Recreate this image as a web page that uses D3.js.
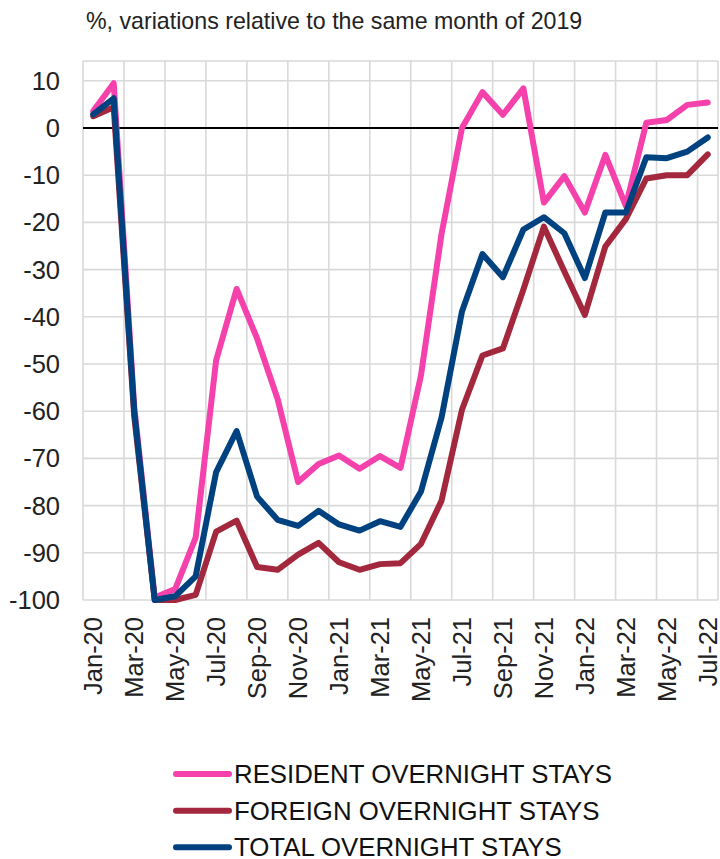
<!DOCTYPE html>
<html>
<head>
<meta charset="utf-8">
<script src="https://cdn.jsdelivr.net/npm/d3@7"></script>
<style>
  body { margin: 0; background: #fff; }
  svg { display: block; font-family: "Liberation Sans", Arial, Helvetica, sans-serif; }
</style>
</head>
<body>
<svg id="chart" width="720" height="859"></svg>
<script>
const months = ["Jan-20","Feb-20","Mar-20","Apr-20","May-20","Jun-20","Jul-20","Aug-20","Sep-20","Oct-20","Nov-20","Dec-20",
  "Jan-21","Feb-21","Mar-21","Apr-21","May-21","Jun-21","Jul-21","Aug-21","Sep-21","Oct-21","Nov-21","Dec-21",
  "Jan-22","Feb-22","Mar-22","Apr-22","May-22","Jun-22","Jul-22"];
const resident = [3.6, 9.5, -59, -99.5, -97.7, -86.8, -49.2, -34.1, -44.6, -57.4, -75, -71.2,
  -69.4, -72.2, -69.5, -72, -52.4, -22.5, 0, 7.6, 2.8, 8.4, -15.8, -10.2,
  -17.9, -5.7, -16.5, 1.1, 1.7, 4.9, 5.4];
const foreign = [2.5, 4.4, -61, -100, -100, -98.9, -85.5, -83.2, -93, -93.6, -90.4, -87.9,
  -92, -93.6, -92.4, -92.2, -88.1, -79, -59.7, -48.2, -46.7, -34.2, -20.9, -30.4,
  -39.6, -25.1, -19.3, -10.7, -10, -10, -5.6];
const total = [2.9, 6.3, -60, -100, -99.2, -95, -72.9, -64.2, -78.1, -83, -84.3, -81.1,
  -84, -85.3, -83.3, -84.5, -77, -61.4, -38.9, -26.7, -31.6, -21.5, -18.9, -22.3,
  -31.8, -17.9, -17.9, -6.2, -6.4, -5, -2];
const yTicks = [10, 0, -10, -20, -30, -40, -50, -60, -70, -80, -90, -100];
const xTickLabels = months.filter((d, i) => i % 2 === 0);
const seriesNames = ["RESIDENT OVERNIGHT STAYS", "FOREIGN OVERNIGHT STAYS", "TOTAL OVERNIGHT STAYS"];
const seriesColors = ["#F441AC", "#A3283D", "#00427F"];
const titleText = "%, variations relative to the same month of 2019";

(function () {
const svg = d3.select("#chart");
const pL = 83, pR = 718, pT = 61, pB = 600;

const x = d3.scaleBand().domain(months).range([pL, pR]).paddingInner(0).paddingOuter(0);
const y = d3.scaleLinear().domain([-100, 10]).range([pB, 80.8]);

svg.append("text").attr("x", 86).attr("y", 29).attr("font-size", 23.2).attr("fill", "#222")
  .text(titleText);

const grid = svg.append("g").attr("stroke", "#d9d9d9").attr("stroke-width", 1.6).attr("fill", "none");
grid.selectAll("line.h").data(yTicks.filter(d => d !== 0)).join("line")
  .attr("x1", pL).attr("x2", pR).attr("y1", d => y(d)).attr("y2", d => y(d));
grid.append("line").attr("x1", pL).attr("x2", pR).attr("y1", pT).attr("y2", pT);
const boundaries = months.map((d, i) => i).filter(i => i % 2 === 0);
grid.selectAll("line.v").data(boundaries).join("line")
  .attr("x1", i => x(months[i])).attr("x2", i => x(months[i]))
  .attr("y1", pT).attr("y2", pB);
grid.append("line").attr("x1", pR).attr("x2", pR).attr("y1", pT).attr("y2", pB);

svg.append("line").attr("x1", pL).attr("x2", pR).attr("y1", y(0)).attr("y2", y(0))
  .attr("stroke", "#000").attr("stroke-width", 2);

svg.append("g").selectAll("text").data(yTicks).join("text")
  .attr("x", 60).attr("y", d => y(d)).attr("dy", "0.35em")
  .attr("text-anchor", "end").attr("font-size", 25.5).attr("fill", "#222")
  .text(d => d);

svg.append("g").selectAll("text").data(xTickLabels).join("text")
  .attr("transform", d => `translate(${x(d) + x.bandwidth() / 2},617) rotate(-90)`)
  .attr("dy", "0.35em").attr("text-anchor", "end").attr("font-size", 25.5).attr("fill", "#222")
  .text(d => d);

const line = d3.line().x((d, i) => x(months[i]) + x.bandwidth() / 2).y(d => y(d));
[resident, foreign, total].forEach((s, k) => {
  svg.append("path").datum(s).attr("d", line)
    .attr("fill", "none").attr("stroke", seriesColors[k]).attr("stroke-width", 6)
    .attr("stroke-linejoin", "round").attr("stroke-linecap", "round");
});

const legY = [774, 810.7, 847.3];
const leg = svg.append("g");
seriesNames.forEach((name, k) => {
  leg.append("line").attr("x1", 176).attr("x2", 229).attr("y1", legY[k]).attr("y2", legY[k])
    .attr("stroke", seriesColors[k]).attr("stroke-width", 6).attr("stroke-linecap", "round");
  leg.append("text").attr("x", 234).attr("y", legY[k] + 9).attr("font-size", 25.8).attr("fill", "#111")
    .text(name);
});
})();
</script>
</body>
</html>
